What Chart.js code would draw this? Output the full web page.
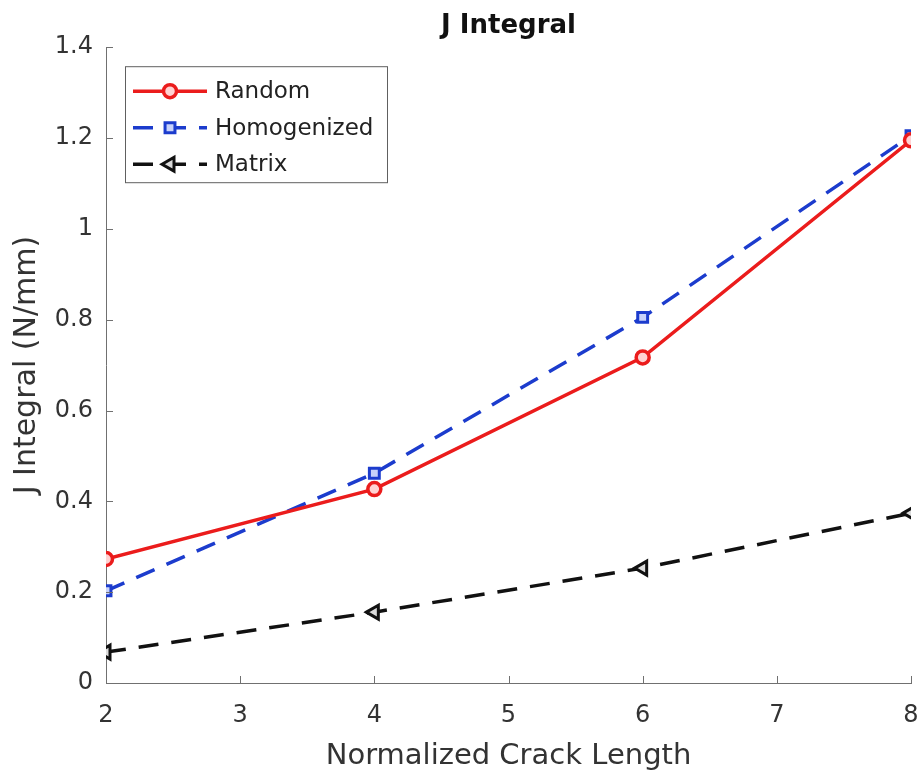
<!DOCTYPE html>
<html>
<head>
<meta charset="utf-8">
<title>J Integral</title>
<script src="https://cdn.jsdelivr.net/npm/chart.js@4.4.1/dist/chart.umd.min.js"></script>
<style>
    html, body { margin: 0; padding: 0; background: #ffffff; }
    #wrap { width: 922px; height: 780px; }
</style>
</head>
<body>
<div id="wrap"><canvas id="jChart" width="922" height="780"></canvas></div>
<script>
// Datos
const crackLength = [2, 4, 6, 8];
const randomJ = [0.273, 0.427, 0.717, 1.195];
const homogenizedJ = [0.203, 0.462, 0.805, 1.205];
const matrixJ = [0.068, 0.156, 0.253, 0.374];

const xTicks = [2, 3, 4, 5, 6, 7, 8];
const xTickLabels = ['2', '3', '4', '5', '6', '7', '8'];
const yTicks = [0, 0.2, 0.4, 0.6, 0.8, 1, 1.2, 1.4];
const yTickLabels = ['0', '0.2', '0.4', '0.6', '0.8', '1', '1.2', '1.4'];

const seriesNames = ['Random', 'Homogenized', 'Matrix'];

function puntos(xs, ys) {
    return xs.map((x, i) => ({ x: x, y: ys[i] }));
}

const FUENTE = '"DejaVu Sans", "Liberation Sans", Arial, sans-serif';

// Marcas de eje hacia dentro, como en MATLAB
const marcasPlugin = {
    id: 'marcas',
    afterDatasetsDraw(chart) {
        const ctx = chart.ctx;
        const xs = chart.scales.x;
        const ys = chart.scales.y;
        const area = chart.chartArea;
        ctx.save();
        ctx.strokeStyle = '#707070';
        ctx.lineWidth = 1;
        ctx.beginPath();
        xTicks.forEach(v => {
            const px = Math.round(xs.getPixelForValue(v)) + 0.5;
            ctx.moveTo(px, area.bottom);
            ctx.lineTo(px, area.bottom - 7);
        });
        yTicks.forEach(v => {
            const py = Math.round(ys.getPixelForValue(v)) + 0.5;
            ctx.moveTo(area.left, py);
            ctx.lineTo(area.left + 7, py);
        });
        ctx.stroke();
        ctx.restore();
    }
};

// Leyenda dentro del area del grafico
const leyendaPlugin = {
    id: 'leyendaInterna',
    afterDraw(chart) {
        const ctx = chart.ctx;
        const area = chart.chartArea;
        const bx = area.left + 19;
        const by = area.top + 19;
        const bw = 262;
        const bh = 116;
        ctx.save();
        ctx.fillStyle = '#ffffff';
        ctx.fillRect(bx, by, bw, bh);
        ctx.strokeStyle = '#606060';
        ctx.lineWidth = 1;
        ctx.strokeRect(bx + 0.5, by + 0.5, bw, bh);

        chart.data.datasets.forEach((ds, i) => {
            const cy = by + 25 + i * 36.5;
            ctx.save();
            ctx.strokeStyle = ds.borderColor;
            ctx.lineWidth = ds.borderWidth;
            ctx.setLineDash(ds.borderDash || []);
            ctx.beginPath();
            ctx.moveTo(bx + 8, cy);
            ctx.lineTo(bx + 82, cy);
            ctx.stroke();
            ctx.setLineDash([]);
            ctx.strokeStyle = ds.pointBorderColor;
            ctx.fillStyle = ds.pointBackgroundColor;
            ctx.lineWidth = ds.pointBorderWidth;
            Chart.helpers.drawPoint(ctx, {
                pointStyle: ds.pointStyle,
                radius: ds.pointRadius,
                rotation: ds.pointRotation || 0,
                borderWidth: ds.pointBorderWidth
            }, bx + 45, cy);
            ctx.restore();

            ctx.fillStyle = '#222222';
            ctx.font = '23px ' + FUENTE;
            ctx.textAlign = 'left';
            ctx.textBaseline = 'middle';
            ctx.fillText(ds.label, bx + 90, cy + 1);
        });
        ctx.restore();
    }
};

const ctx = document.getElementById('jChart').getContext('2d');

new Chart(ctx, {
    type: 'line',
    data: {
        datasets: [
            {
                label: seriesNames[0],
                data: puntos(crackLength, randomJ),
                borderColor: 'rgb(235, 28, 28)',
                borderWidth: 3.5,
                pointStyle: 'circle',
                pointRadius: 6.5,
                pointBorderWidth: 3.5,
                pointBorderColor: 'rgb(235, 28, 28)',
                pointBackgroundColor: 'rgba(255, 210, 210, 1)',
                tension: 0
            },
            {
                label: seriesNames[1],
                data: puntos(crackLength, homogenizedJ),
                borderColor: 'rgb(28, 60, 205)',
                borderWidth: 3.5,
                borderDash: [20, 13],
                pointStyle: 'rect',
                pointRadius: 7,
                pointBorderWidth: 3,
                pointBorderColor: 'rgb(28, 60, 205)',
                pointBackgroundColor: 'rgba(200, 210, 250, 1)',
                tension: 0
            },
            {
                label: seriesNames[2],
                data: puntos(crackLength, matrixJ),
                borderColor: '#111111',
                borderWidth: 3.5,
                borderDash: [20, 13],
                pointStyle: 'triangle',
                pointRotation: -90,
                pointRadius: 8,
                pointBorderWidth: 3,
                pointBorderColor: '#111111',
                pointBackgroundColor: 'rgba(220, 220, 220, 1)',
                tension: 0
            }
        ]
    },
    options: {
        responsive: false,
        animation: false,
        devicePixelRatio: 1,
        layout: { padding: { left: 0, right: 10, top: 0, bottom: 0 } },
        plugins: {
            legend: { display: false },
            tooltip: { enabled: false },
            title: {
                display: true,
                text: 'J Integral',
                fullSize: false,
                color: '#111111',
                font: { family: FUENTE, size: 26, weight: 'bold', lineHeight: 1.2 },
                padding: { top: 11, bottom: 5 }
            }
        },
        scales: {
            x: {
                type: 'linear',
                min: 2,
                max: 8,
                afterFit: function(scale) {
                    scale.height = 97;
                    scale.paddingLeft = 0;
                    scale.paddingRight = 0;
                },
                afterBuildTicks: function(scale) {
                    scale.ticks = xTicks.map(v => ({ value: v }));
                },
                ticks: {
                    color: '#333333',
                    font: { family: FUENTE, size: 24 },
                    padding: 18,
                    maxRotation: 0,
                    callback: function(value) {
                        const i = xTicks.indexOf(value);
                        return i >= 0 ? xTickLabels[i] : '';
                    }
                },
                grid: { display: true, drawOnChartArea: false, drawTicks: false },
                border: { display: true, color: '#707070', width: 1 },
                title: {
                    display: true,
                    text: 'Normalized Crack Length',
                    color: '#333333',
                    font: { family: FUENTE, size: 29, lineHeight: 1.2 },
                    padding: { top: 0, bottom: 6 }
                }
            },
            y: {
                type: 'linear',
                min: 0,
                max: 1.4,
                afterFit: function(scale) {
                    scale.width = 106;
                    scale.paddingTop = 0;
                    scale.paddingBottom = 0;
                },
                afterBuildTicks: function(scale) {
                    scale.ticks = yTicks.map(v => ({ value: v }));
                },
                ticks: {
                    color: '#333333',
                    font: { family: FUENTE, size: 24 },
                    padding: 13,
                    callback: function(value) {
                        const i = yTicks.findIndex(t => Math.abs(t - value) < 1e-9);
                        return i >= 0 ? yTickLabels[i] : '';
                    }
                },
                grid: { display: true, drawOnChartArea: false, drawTicks: false },
                border: { display: true, color: '#707070', width: 1 },
                title: {
                    display: true,
                    text: 'J Integral (N/mm)',
                    color: '#333333',
                    font: { family: FUENTE, size: 30, lineHeight: 1.2 },
                    padding: { top: 9, bottom: 0 }
                }
            }
        }
    },
    plugins: [marcasPlugin, leyendaPlugin]
});
</script>
</body>
</html>
